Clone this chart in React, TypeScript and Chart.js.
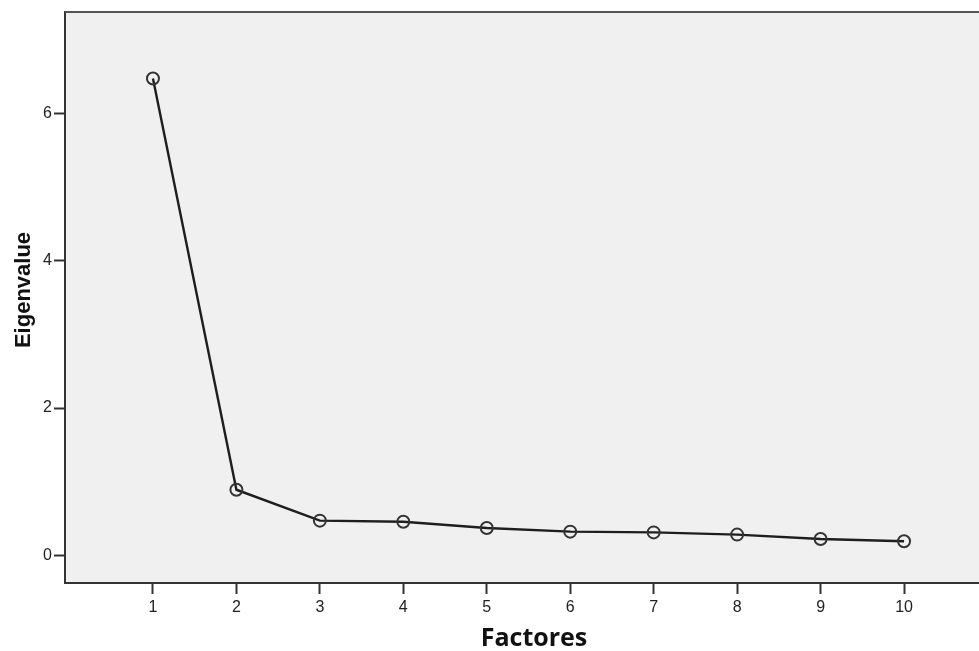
import React, { useEffect, useRef } from "react";
import { Chart, registerables } from "chart.js";

Chart.register(...registerables);

const factors = [1, 2, 3, 4, 5, 6, 7, 8, 9, 10];
const eigenvalues = [6.48, 0.89, 0.47, 0.455, 0.37, 0.32, 0.31, 0.28, 0.22, 0.19];
const yTickValues = [0, 2, 4, 6];
const xTickValues = [1, 2, 3, 4, 5, 6, 7, 8, 9, 10];
const xTitle = "Factores";
const yTitle = "Eigenvalue";

const plotDecor = {
  id: "plotDecor",
  beforeDraw(chart: any) {
    const { ctx, chartArea } = chart;
    ctx.save();
    ctx.fillStyle = "#f0f0f0";
    ctx.fillRect(chartArea.left, chartArea.top, chartArea.right - chartArea.left, chartArea.bottom - chartArea.top);
    ctx.restore();
  },
  afterDraw(chart: any) {
    const { ctx, chartArea } = chart;
    ctx.save();
    ctx.strokeStyle = "#555";
    ctx.lineWidth = 2;
    ctx.beginPath();
    ctx.moveTo(chartArea.left, chartArea.top);
    ctx.lineTo(chartArea.right, chartArea.top);
    ctx.stroke();
    // axis titles
    ctx.fillStyle = "#111";
    ctx.textAlign = "center";
    ctx.textBaseline = "alphabetic";
    ctx.font = "bold 25px 'Open Sans'";
    ctx.fillText(xTitle, 534, 646);
    ctx.translate(30, 290);
    ctx.rotate(-Math.PI / 2);
    ctx.font = "bold 22px 'Liberation Sans'";
    ctx.fillText(yTitle, 0, 0);
    ctx.restore();
  },
};

export default function App() {
  const ref = useRef<HTMLCanvasElement>(null);
  useEffect(() => {
    if (!ref.current) return;
    const chart = new Chart(ref.current, {
      type: "line",
      data: {
        datasets: [
          {
            data: factors.map((f, i) => ({ x: f, y: eigenvalues[i] })),
            borderColor: "#1e1e1e",
            borderWidth: 2.4,
            pointRadius: 6,
            pointBorderWidth: 2,
            pointBorderColor: "#333",
            pointBackgroundColor: "rgba(0,0,0,0)",
            tension: 0,
          },
        ],
      },
      plugins: [plotDecor],
      options: {
        animation: false,
        responsive: false,
        maintainAspectRatio: false,
        layout: { autoPadding: false, padding: { top: 12, left: 0, right: 0, bottom: 0 } },
        plugins: { legend: { display: false }, tooltip: { enabled: false } },
        scales: {
          x: {
            type: "linear",
            min: -0.054,
            max: 11.054,
            afterBuildTicks: (s: any) => {
              s.ticks = xTickValues.map((v) => ({ value: v }));
            },
            afterFit: (s: any) => {
              s.height = 68;
            },
            grid: { display: true, drawOnChartArea: false, drawTicks: true, tickLength: 11, tickColor: "#333", tickWidth: 2 },
            border: { display: true, color: "#333", width: 2 },
            ticks: { color: "#222", font: { family: "Liberation Sans", size: 16 }, padding: 4 },
            title: { display: false },
          },
          y: {
            type: "linear",
            min: -0.378,
            max: 7.385,
            afterBuildTicks: (s: any) => {
              s.ticks = yTickValues.map((v) => ({ value: v }));
            },
            afterFit: (s: any) => {
              s.width = 65;
            },
            grid: { display: true, drawOnChartArea: false, drawTicks: true, tickLength: 11, tickColor: "#333", tickWidth: 2 },
            border: { display: true, color: "#333", width: 2 },
            ticks: { color: "#222", font: { family: "Liberation Sans", size: 16 }, padding: 2 },
            title: { display: false },
          },
        },
      },
    });
    return () => chart.destroy();
  }, []);
  return (
    <div style={{ position: "absolute", left: 0, top: 0, width: 979, height: 651, overflow: "hidden", background: "#fff" }}>
      <canvas ref={ref} width={992} height={651} style={{ display: "block", width: 992, height: 651 }} />
    </div>
  );
}
